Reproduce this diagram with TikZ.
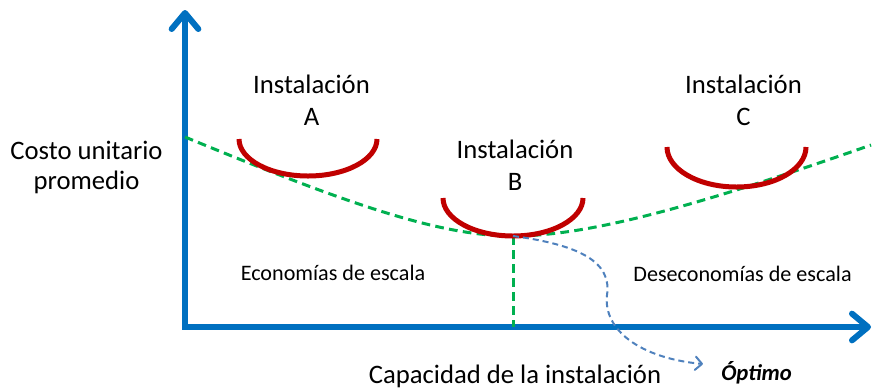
\documentclass[tikz,border=0pt]{standalone}
\usepackage{fontspec}
\setmainfont{Carlito}
\usetikzlibrary{arrows.meta, positioning}

\definecolor{axisblue}{HTML}{0070C0}
\definecolor{plantred}{HTML}{C00000}
\definecolor{costgreen}{HTML}{00B050}
\definecolor{optblue}{HTML}{4F81BD}

\begin{document}
\begin{tikzpicture}[
  x=0.75pt, y=-0.75pt,
  axis/.style={line width=4.5pt, draw=axisblue, -{Straight Barb[round, length=12pt, width=20pt]}},
  cost/.style={line width=2.25pt, draw=costgreen, dash pattern=on 6.5pt off 4pt},
  plant/.style={line width=3.75pt, draw=plantred},
  pointer/.style={line width=1.5pt, draw=optblue, dash pattern=on 4.5pt off 3pt, -{Straight Barb[round, length=5pt, width=10pt]}},
  big/.style={font=\fontsize{20}{23.5}\selectfont, align=center, anchor=base, inner sep=0pt},
  small/.style={font=\fontsize{16.6}{19}\selectfont, anchor=base, inner sep=0pt}
  ]

  \useasboundingbox (0,0) rectangle (873,390);

  % Axes
  \coordinate (origin) at (185,327);
  \coordinate (ytop) at (185,10);
  \coordinate (xend) at (871,327);
  \draw[axis, -] (185,329.5) -- (origin);
  \draw[axis] (origin) -- (ytop);
  \draw[axis] (182.75,327) -- (xend);

  % Average cost curve with its minimum
  \coordinate (opt) at (513,236);
  \draw[cost] (185,137) .. controls (350,205) and (440,236) .. (opt)
              .. controls (590,236) and (700,205) .. (871,145);
  \draw[cost] (opt) -- (opt |- origin);

  % Plant curves
  \draw[plant] (239,139) arc[start angle=180, end angle=0, x radius=69, y radius=37];
  \draw[plant] (443,198) arc[start angle=180, end angle=0, x radius=70, y radius=38];
  \draw[plant] (667,147) arc[start angle=180, end angle=0, x radius=69.5, y radius=40];

  % Labels (base = last line)
  \node[big] (instA) at (311.5,125) {Instalación\\A};
  \node[big] (instB) at (515,190) {Instalación\\B};
  \node[big] (instC) at (743.5,125) {Instalación\\C};
  \node[big, font=\fontsize{20}{22.5}\selectfont] (ylab) at (86.5,189) {Costo unitario\\promedio};
  \node[big] (xlab) at (515,383) {Capacidad de la instalación};
  \node[small] (econ) at (333,280) {Economías de escala};
  \node[small] (deseco) at (742.5,281) {Deseconomías de escala};
  \node[small, font=\fontsize{17}{19}\selectfont\bfseries\itshape] (optimo) at (756.5,380) {Óptimo};

  % Pointer to the optimum
  \coordinate (optend) at (703,364);
  \draw[pointer] (opt) .. controls (580,245) and (612,262) .. (607,295)
                 .. controls (603,330) and (640,358) .. (optend);

\end{tikzpicture}
\end{document}
